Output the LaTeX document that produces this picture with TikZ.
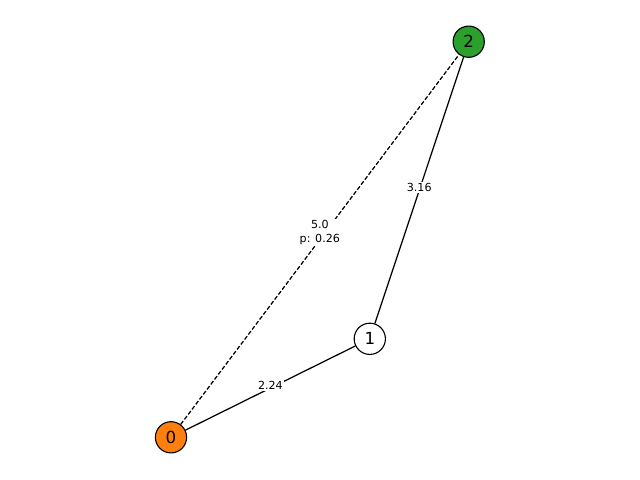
\documentclass[tikz,border=0pt]{standalone}
\usepackage{fontspec}
\setmainfont{DejaVu Sans}
\begin{document}
\begin{tikzpicture}[x=0.72pt,y=-0.72pt,
  vtx/.style={circle,draw=black,line width=0.8pt,minimum size=22.5pt,inner sep=0pt,font=\fontsize{12}{14}\selectfont},
  elab/.style={fill=white,inner sep=1pt,font=\fontsize{8}{9.5}\selectfont,align=center},
  edg/.style={line width=0.9pt,black}]
\useasboundingbox (0,0) rectangle (640,480);
\node[vtx,fill={rgb,255:red,255;green,127;blue,14}] (n0) at (171,437.3) {0};
\node[vtx,fill=white] (n1) at (369.8,338.8) {1};
\node[vtx,fill={rgb,255:red,44;green,160;blue,44}] (n2) at (468.7,41.7) {2};
\draw[edg] (n0) -- (n1) node[elab,midway,yshift=2pt] {2.24};
\draw[edg] (n1) -- (n2) node[elab,midway,yshift=2pt] {3.16};
\draw[edg,dashed,dash pattern=on 3pt off 1.5pt] (n0) -- (n2) node[elab,midway,yshift=5pt] {5.0\\p: 0.26};
\end{tikzpicture}
\end{document}
